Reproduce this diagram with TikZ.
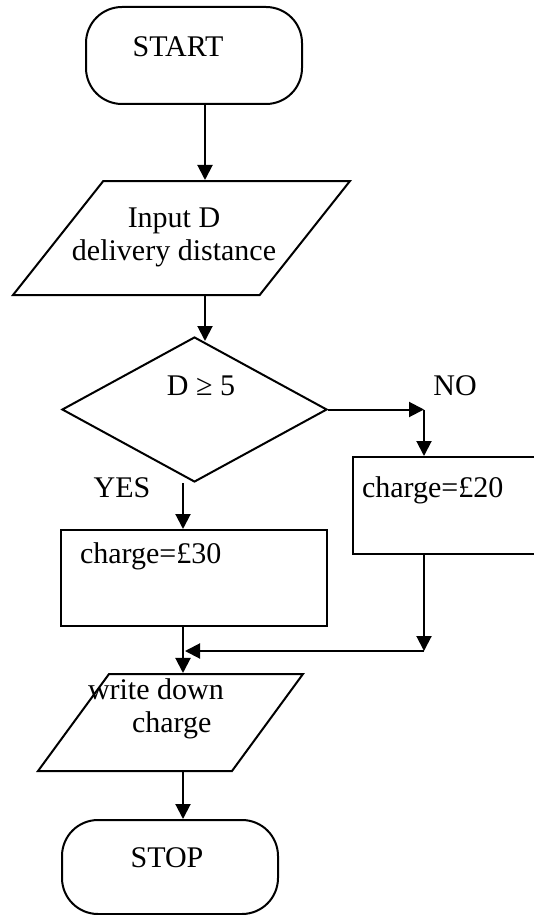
\documentclass[tikz,border=0pt]{standalone}
\usepackage{fontspec}
\setmainfont{Liberation Serif}
\usetikzlibrary{shapes.geometric,arrows.meta,calc}

\tikzset{
  terminal/.style={draw,rectangle,rounded corners=36pt,minimum width=216pt,inner sep=0pt},
  iobox/.style={draw,trapezium,trapezium left angle=60,trapezium right angle=120,
    trapezium stretches=true,inner sep=2pt},
  decision/.style={draw,diamond,inner sep=0pt,minimum width=265pt,minimum height=145pt},
  process/.style={draw,rectangle,inner sep=0pt},
  arr/.style={-{Triangle[length=15pt,width=15pt]}},
  txt/.style={inner sep=0pt,outer sep=0pt,font=\fontsize{30}{33}\selectfont}
}

\begin{document}
\begin{tikzpicture}[x=1pt,y=-1pt,line width=2pt]
\useasboundingbox (0,0) rectangle (534,915);
\clip (0,0) rectangle (534,915);

% shapes
\node[terminal,minimum height=97pt] (start) at (194,55.5) {};
\node[iobox,minimum width=337pt,minimum height=114pt] (inp) at (181.5,238) {};
\node[decision] (dec) at (194.5,409.5) {};
\node[process,minimum width=266pt,minimum height=96pt] (yesbox) at (194,578) {};
\node[process,minimum width=200pt,minimum height=97pt,anchor=west] (nobox) at (352,505.5) {};
\node[iobox,minimum width=265pt,minimum height=97pt] (out) at (170.5,722.5) {};
\node[terminal,minimum height=94pt] (stop) at (170,867) {};

% texts
\node[txt,anchor=base] (tstart) at (178,57) {START};
\node[txt,align=center,anchor=base] (tinp) at (174,260) {Input D\\delivery distance};
\node[txt,anchor=base] (tdec) at (201,395) {D ≥ 5};
\node[txt,anchor=base] (tno) at (455,395) {NO};
\node[txt,anchor=base] (tyes) at (122,497) {YES};
\node[txt,anchor=base west] (tyesbox) at (80,563) {charge=£30};
\node[txt,anchor=base west] (tnobox) at (362,497) {charge=£20};
\node[txt,align=left,anchor=base west] (tout) at (88,732) {write down\\\hspace*{44pt}charge};
\node[txt,anchor=base] (tstop) at (167,867) {STOP};

% connectors
\coordinate (spine) at (205,0);
\coordinate (ycol) at (183,0);
\coordinate (noturn) at (424,409.5);
\coordinate (merge) at (424,651);

\draw[arr] (start.south -| spine) -- (inp.north -| spine);
\draw[arr] (inp.south -| spine) -- ($(dec.north -| spine)+(0,5)$);
\draw[arr] (dec.east) -- (noturn);
\draw[arr] (noturn) -- (nobox.north -| noturn);
\draw[arr] (ycol |- dec.south) -- (yesbox.north -| ycol);
\draw[arr] (nobox.south -| merge) -- (merge);
\draw[arr] (merge) -- ($(ycol |- merge)+(2,0)$);
\draw[arr] (yesbox.south -| ycol) -- (out.north -| ycol);
\draw[arr] (out.south -| ycol) -- (stop.north -| ycol);
\end{tikzpicture}
\end{document}
